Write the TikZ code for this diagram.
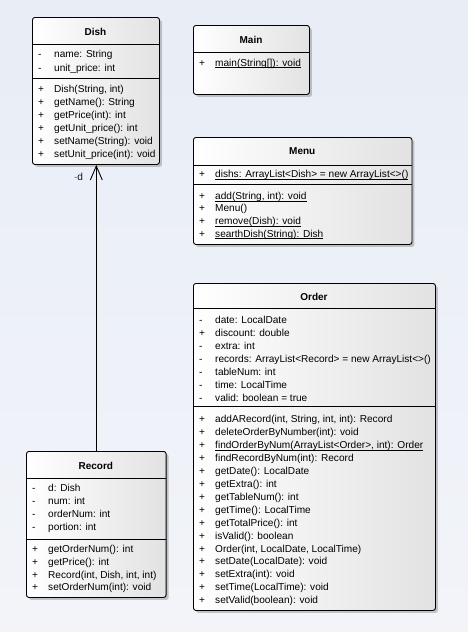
\documentclass[tikz,border=0pt]{standalone}
\usepackage{fontspec}
\setmainfont{Liberation Sans}
\usetikzlibrary{shadows,arrows.meta}
\definecolor{bgtop}{RGB}{232,237,246}
\definecolor{bgbot}{RGB}{242,244,249}
\definecolor{boxgray}{RGB}{226,226,226}
\definecolor{lblorange}{RGB}{200,90,0}
\definecolor{lblnavy}{RGB}{10,10,60}
\tikzset{
  classbox/.style={draw=black, line width=0.9pt, rounded corners=2.5pt,
    left color=white, right color=boxgray,
    drop shadow={shadow xshift=2.5pt, shadow yshift=-2.5pt, fill=black, opacity=0.2},
    anchor=north west, inner sep=0pt},
  sepline/.style={draw=black, line width=0.9pt},
  title/.style={font=\bfseries, inner sep=0pt},
  vis/.style={anchor=base west, inner sep=0pt},
  member/.style={anchor=base west, inner sep=0pt},
  assoc/.style={draw=black, line width=0.9pt,
    -{Straight Barb[length=14pt,width=12pt,line width=0.9pt]}},
}
\newcommand{\ulx}[1]{\setbox0=\hbox{#1}\rlap{\rule[-1.8pt]{\wd0}{0.55pt}}\box0}
\newcommand{\memberlist}[5]{%
  \foreach \vv/\mtext [count=\mi from 0] in {#5} {
    \node[vis] (#1-v\mi) at (#2+6, #3+\mi*#4+3.5) {\vv};
    \node[member] (#1-m\mi) at (#2+22, #3+\mi*#4+3.5) {\mtext};
  }}
\begin{document}
\begin{tikzpicture}[x=1pt,y=-1pt,font=\fontsize{10.1}{12}\selectfont]
\shade[top color=bgtop, bottom color=bgbot] (0,0) rectangle (468,632);
\useasboundingbox (0,0) rectangle (468,632);

% Dish
\node[classbox, minimum width=127pt, minimum height=147pt] (dish) at (32,17) {};
\node[title] (dish-t) at (95.5,31.5) {Dish};
\draw[sepline] (32,44) -- (159,44);
\draw[sepline] (32,78) -- (159,78);
\memberlist{dishA}{32}{54.3}{13.3}{-/{name: String}, -/{unit\_price: int}}
\memberlist{dishM}{32}{88.8}{13.05}{+/{Dish(String, int)}, +/{getName(): String}, +/{getPrice(int): int}, +/{getUnit\_price(): int}, +/{setName(String): void}, +/{setUnit\_price(int): void}}

% Main
\node[classbox, minimum width=116pt, minimum height=69pt] (main) at (193,25) {};
\node[title] (main-t) at (251,39.5) {Main};
\draw[sepline] (193,52.3) -- (309,52.3);
\memberlist{mainM}{193}{62.7}{13}{+/{\ulx{main(String[]): void}}}

% Menu
\node[classbox, minimum width=218.5pt, minimum height=107pt] (menu) at (193,137) {};
\node[title] (menu-t) at (302.25,151.5) {Menu};
\draw[sepline] (193,165) -- (411.5,165);
\draw[sepline] (193,184.3) -- (411.5,184.3);
\memberlist{menuA}{193}{174.3}{13}{+/{\ulx{dishs: ArrayList<Dish> = new ArrayList<>()}}}
\memberlist{menuM}{193}{195.8}{12.6}{+/{\ulx{add(String, int): void}}, +/{Menu()}, +/{\ulx{remove(Dish): void}}, +/{\ulx{searthDish(String): Dish}}}

% Order
\node[classbox, minimum width=242pt, minimum height=327pt] (order) at (193,283) {};
\node[title] (order-t) at (314,296.5) {Order};
\draw[sepline] (193,308.3) -- (435,308.3);
\draw[sepline] (193,406) -- (435,406);
\memberlist{orderA}{193}{320}{12.95}{-/{date: LocalDate}, +/{discount: double}, -/{extra: int}, -/{records: ArrayList<Record> = new ArrayList<>()}, -/{tableNum: int}, -/{time: LocalTime}, -/{valid: boolean = true}}
\memberlist{orderM}{193}{419}{12.95}{+/{addARecord(int, String, int, int): Record}, +/{deleteOrderByNumber(int): void}, +/{\ulx{findOrderByNum(ArrayList<Order>, int): Order}}, +/{findRecordByNum(int): Record}, +/{getDate(): LocalDate}, +/{getExtra(): int}, +/{getTableNum(): int}, +/{getTime(): LocalTime}, +/{getTotalPrice(): int}, +/{isValid(): boolean}, +/{Order(int, LocalDate, LocalTime)}, +/{setDate(LocalDate): void}, +/{setExtra(int): void}, +/{setTime(LocalTime): void}, +/{setValid(boolean): void}}

% Record
\node[classbox, minimum width=139.7pt, minimum height=146pt] (record) at (26,451) {};
\node[title] (record-t) at (95.85,466) {Record};
\draw[sepline] (26,478.3) -- (165.7,478.3);
\draw[sepline] (26,539) -- (165.7,539);
\memberlist{recA}{26}{488.3}{13}{-/{d: Dish}, -/{num: int}, -/{orderNum: int}, -/{portion: int}}
\memberlist{recM}{26}{549}{12.8}{+/{getOrderNum(): int}, +/{getPrice(): int}, +/{Record(int, Dish, int, int)}, +/{setOrderNum(int): void}}

% association
\draw[assoc] (record.north) -- (record.north |- dish.south);
\node[inner sep=0pt] (dlbl) at (78.5,176.5) {\textcolor{lblorange}{-}\textcolor{lblnavy}{d}};
\end{tikzpicture}
\end{document}
